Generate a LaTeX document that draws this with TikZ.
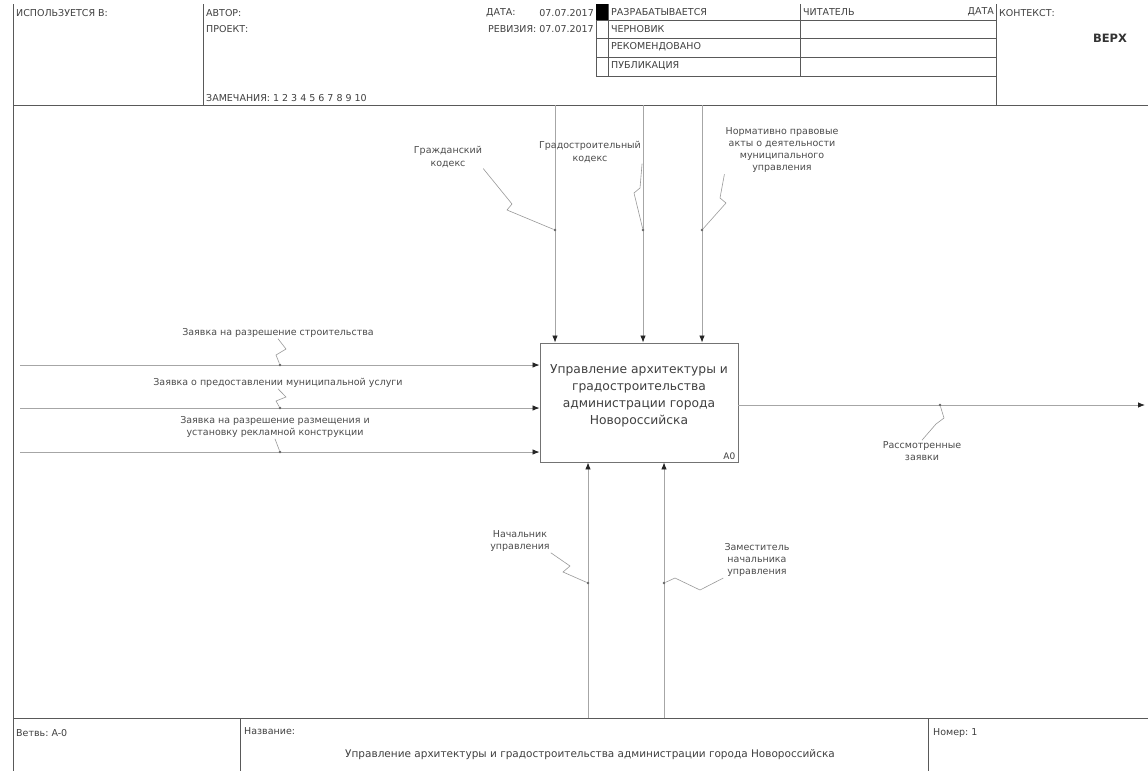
\documentclass[tikz,border=0pt]{standalone}
\usepackage{fontspec}
\setmainfont{DejaVu Sans}
\usetikzlibrary{arrows.meta}
\begin{document}
\begin{tikzpicture}[x=1pt,y=-1pt,
  frame/.style={draw=black!65, line width=0.9pt},
  hdr/.style={anchor=west, inner sep=0pt, font=\fontsize{9.5}{11}\selectfont, text=black!75},
  lbl/.style={align=center, inner sep=1pt, font=\fontsize{9.5}{12.3}\selectfont, text=black!70},
  flow/.style={draw=black!35, line width=0.8pt, -{Latex[length=7pt,width=5.5pt,color=black!85]}},
  squig/.style={draw=black!40, line width=0.6pt},
  tick/.style={fill=black!60, circle, inner sep=0pt, minimum size=2.6pt}
]
\useasboundingbox (0,0) rectangle (1148,771);
\fill[white] (0,0) rectangle (1148,771);

% frame
\draw[frame] (13,4) -- (13,771);
\draw[frame] (13,105) -- (1148,105);
\draw[frame] (203,4) -- (203,105);
\draw[frame] (996,4) -- (996,105);
\draw[frame] (596,4) -- (596,76);
\draw[frame] (608,4) -- (608,76);
\draw[frame] (800,4) -- (800,76);
\foreach \yy in {20,38,57,76} \draw[frame] (596,\yy) -- (996,\yy);
\fill[black] (596,4) rectangle (608,20);
\draw[frame] (13,718) -- (1148,718);
\draw[frame] (240,718) -- (240,771);
\draw[frame] (928,718) -- (928,771);

% header texts
\node[hdr] (used) at (16,13) {ИСПОЛЬЗУЕТСЯ В:};
\node[hdr] (author) at (206,13) {АВТОР:};
\node[hdr] (proj) at (206,29) {ПРОЕКТ:};
\node[hdr] (notes) at (206,98) {ЗАМЕЧАНИЯ:\ 1 2 3 4 5 6 7 8 9 10};
\node[hdr] (date) at (486,13) {ДАТА:};
\node[hdr,anchor=east] (dateval) at (594,13) {07.07.2017};
\node[hdr,anchor=east] (rev) at (594,29) {РЕВИЗИЯ:\ 07.07.2017};
\node[hdr] (s1) at (611,12) {РАЗРАБАТЫВАЕТСЯ};
\node[hdr] (s2) at (611,29) {ЧЕРНОВИК};
\node[hdr] (s3) at (611,47) {РЕКОМЕНДОВАНО};
\node[hdr] (s4) at (611,66) {ПУБЛИКАЦИЯ};
\node[hdr] (reader) at (803,12) {ЧИТАТЕЛЬ};
\node[hdr,anchor=east] (rdate) at (994,12) {ДАТА};
\node[hdr] (ctx) at (999,13) {КОНТЕКСТ:};
\node[font=\bfseries\fontsize{11.5}{13}\selectfont, text=black!80] (topn) at (1110,38) {ВЕРХ};

% function box
\node[draw=black!55, line width=0.9pt, minimum width=198pt, minimum height=119pt, inner sep=0pt] (fn) at (639,402.5) {};
\node[align=center, font=\fontsize{12.3}{17}\selectfont, text=black!75] (fntext) at (639,395.5) {Управление архитектуры и\\градостроительства\\администрации города\\Новороссийска};
\node[anchor=south east, inner sep=3pt, font=\fontsize{9}{10}\selectfont, text=black!75] (fnid) at (fn.south east) {A0};

% controls
\coordinate (c1) at (555,105);
\coordinate (c2) at (643,105);
\coordinate (c3) at (702,105);
\draw[flow] (c1) -- (c1 |- fn.north);
\draw[flow] (c2) -- (c2 |- fn.north);
\draw[flow] (c3) -- (c3 |- fn.north);
\node[tick] (tc1) at (555,230) {};
\node[tick] (tc2) at (643,230) {};
\node[tick] (tc3) at (702,230) {};
\node[lbl] (lc1) at (448,157) {Гражданский\\кодекс};
\node[lbl] (lc2) at (590,152) {Градостроительный\\кодекс};
\node[lbl] (lc3) at (782,150) {Нормативно правовые\\акты о деятельности\\муниципального\\управления};
\draw[squig] (lc1.south east) -- (512,204) -- (507,210) -- (tc1);
\draw[squig] (lc2.south east) -- (640,188) -- (634,193) -- (tc2);
\draw[squig] (lc3.south west) -- (720,198) -- (726,203) -- (tc3);

% inputs
\coordinate (i1) at (20,365);
\coordinate (i2) at (20,408);
\coordinate (i3) at (20,452);
\draw[flow] (i1) -- (i1 -| fn.west);
\draw[flow] (i2) -- (i2 -| fn.west);
\draw[flow] (i3) -- (i3 -| fn.west);
\node[tick] (ti1) at (280,365) {};
\node[tick] (ti2) at (280,408) {};
\node[tick] (ti3) at (280,452) {};
\node[lbl] (li1) at (278,333) {Заявка на разрешение строительства};
\node[lbl] (li2) at (278,383) {Заявка о предоставлении муниципальной услуги};
\node[lbl] (li3) at (275,427) {Заявка на разрешение размещения и\\установку рекламной конструкции};
\draw[squig] (li1.south) -- (286,349) -- (276,355) -- (ti1);
\draw[squig] (li2.south) -- (286,397) -- (276,401) -- (ti2);
\draw[squig] (li3.south) -- (ti3);

% output
\coordinate (o1) at (1145,405);
\draw[flow] (fn.east |- o1) -- (o1);
\node[tick] (to1) at (940,405) {};
\node[lbl] (lo1) at (922,451) {Рассмотренные\\заявки};
\draw[squig] (to1) -- (944,418) -- (936,424) -- (lo1.north);

% mechanisms
\coordinate (m1) at (588,718);
\coordinate (m2) at (664,718);
\draw[flow] (m1) -- (m1 |- fn.south);
\draw[flow] (m2) -- (m2 |- fn.south);
\node[tick] (tm1) at (588,583) {};
\node[tick] (tm2) at (664,583) {};
\node[lbl] (lm1) at (520,541) {Начальник\\управления};
\node[lbl] (lm2) at (757,560) {Заместитель\\начальника\\управления};
\draw[squig] (lm1.south east) -- (570,566) -- (563,572) -- (tm1);
\draw[squig] (tm2) -- (675,578) -- (700,590) -- (lm2.south west);

% footer
\node[hdr] (branch) at (16,733) {Ветвь:\ A-0};
\node[hdr] (namel) at (244,731) {Название:};
\node[font=\fontsize{10.5}{12}\selectfont, text=black!75] (title) at (590,755) {Управление архитектуры и градостроительства администрации города Новороссийска};
\node[hdr] (num) at (933,733) {Номер:\ 1};
\end{tikzpicture}
\end{document}
